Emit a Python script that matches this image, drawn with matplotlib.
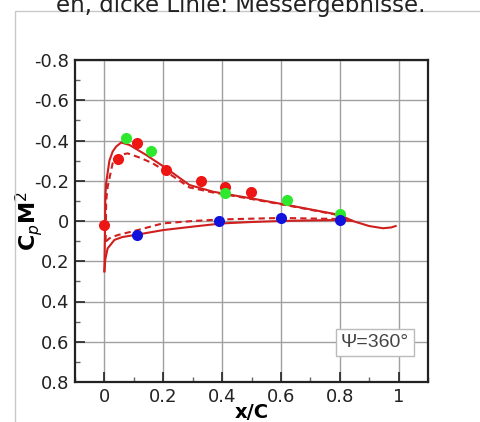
import matplotlib
matplotlib.use("Agg")
import matplotlib.pyplot as plt
from matplotlib.patches import Rectangle

# ---- data ----
red_x = [0.0, 0.045, 0.11, 0.21, 0.33, 0.41, 0.50]
red_y = [0.02, -0.307, -0.39, -0.253, -0.199, -0.167, -0.143]
green_x = [0.075, 0.159, 0.41, 0.62, 0.80]
green_y = [-0.41, -0.348, -0.138, -0.104, -0.033]
blue_x = [0.111, 0.391, 0.60, 0.80]
blue_y = [0.068, 0.0, -0.015, -0.005]

sol_up_x = [0.0, 0.002, 0.003, 0.006, 0.017, 0.028, 0.04, 0.057, 0.085, 0.142, 0.21, 0.289,
            0.368, 0.41, 0.497, 0.62, 0.80, 0.844, 0.90, 0.947, 0.975, 0.99]
sol_up_y = [0.25, 0.05, -0.12, -0.19, -0.30, -0.345, -0.37, -0.39, -0.378, -0.328, -0.262,
            -0.179, -0.146, -0.135, -0.113, -0.08, -0.03, 0.0, 0.025, 0.036, 0.032, 0.025]
sol_lo_x = [0.0, 0.003, 0.011, 0.034, 0.06, 0.11, 0.2, 0.3, 0.4, 0.5, 0.6, 0.7, 0.8, 0.844]
sol_lo_y = [0.25, 0.19, 0.136, 0.094, 0.08, 0.068, 0.045, 0.028, 0.012, 0.005, 0.0, -0.003,
            -0.005, 0.0]
das_up_x = [0.004, 0.006, 0.011, 0.028, 0.051, 0.079, 0.12, 0.164, 0.21, 0.289, 0.368,
            0.41, 0.497, 0.62, 0.80, 0.844]
das_up_y = [0.1, -0.1, -0.17, -0.287, -0.328, -0.336, -0.315, -0.287, -0.245, -0.167, -0.142,
            -0.132, -0.11, -0.078, -0.028, 0.0]
das_lo_x = [0.004, 0.008, 0.017, 0.045, 0.113, 0.198, 0.3, 0.4, 0.6, 0.8, 0.844]
das_lo_y = [0.1, 0.098, 0.086, 0.07, 0.045, 0.012, 0.0, -0.008, -0.015, -0.01, 0.0]

xticks = [0, 0.2, 0.4, 0.6, 0.8, 1]
xtick_labels = ["0", "0.2", "0.4", "0.6", "0.8", "1"]
yticks = [-0.8, -0.6, -0.4, -0.2, 0, 0.2, 0.4, 0.6, 0.8]
ytick_labels = ["-0.8", "-0.6", "-0.4", "-0.2", "0", "0.2", "0.4", "0.6", "0.8"]

W, H = 481, 422
plt.rcParams['font.family'] = ['DejaVu Sans']
plt.rcParams['mathtext.fontset'] = 'dejavusans'
fig = plt.figure(figsize=(W / 100, H / 100), dpi=100)

# grey frame (left and top edges visible)
fig.patches.append(Rectangle((15 / W, -0.05), 1.0, (H - 11) / H + 0.05,
                             transform=fig.transFigure, fill=False,
                             edgecolor='#c8c8c8', linewidth=1.0))
fig.text(241 / W, (H - 12) / H, "en, dicke Linie: Messergebnisse.", ha='center',
         va='baseline', fontsize=16.5, color='#222222')

ax = fig.add_axes([75 / W, (H - 382) / H, (428 - 75) / W, (382 - 60) / H])
lc = '#d01f1f'
ax.plot(sol_up_x, sol_up_y, color=lc, lw=1.5, zorder=3)
ax.plot(sol_lo_x, sol_lo_y, color=lc, lw=1.5, zorder=3)
ax.plot(das_up_x, das_up_y, color=lc, lw=1.5, ls=(0, (3, 2)), zorder=3)
ax.plot(das_lo_x, das_lo_y, color=lc, lw=1.5, ls=(0, (3, 2)), zorder=3)
ax.plot(red_x, red_y, 'o', color='#ee1515', ms=8, mec='none', zorder=4)
ax.plot(green_x, green_y, 'o', color='#2ee82e', ms=8, mec='none', zorder=4)
ax.plot(blue_x, blue_y, 'o', color='#1212dd', ms=8, mec='none', zorder=4)

ax.set_xlim(-0.1, 1.1)
ax.set_ylim(0.8, -0.8)
ax.set_xticks(xticks)
ax.set_xticklabels(xtick_labels)
ax.set_yticks(yticks)
ax.set_yticklabels(ytick_labels)
ax.set_xticks([-0.1 + 0.1 * i for i in range(13)], minor=True)
ax.set_yticks([-0.7 + 0.2 * i for i in range(8)], minor=True)
ax.tick_params(which='major', direction='in', length=7, width=1.2, labelsize=13,
               colors='#222222', pad=4)
ax.tick_params(which='minor', direction='in', length=3.5, width=1.0, color='#666666')
ax.grid(True, which='major', color='#a0a0a0', lw=1.0)
ax.set_axisbelow(True)
for s in ax.spines.values():
    s.set_linewidth(1.6)
    s.set_color('#222222')

ax.set_xlabel("x/C", fontsize=14, fontweight='bold', va='top')
ax.xaxis.set_label_coords((252 - 75) / 353, (382 - 403) / 322)
ax.set_ylabel(r"$\mathbf{C}_{p}\mathbf{M}^{2}$", fontsize=16)
ax.yaxis.set_label_coords((45 - 75) / 353, (382 - 221) / 322)

ax.text((375 - 75) / 353, (382 - 342.5) / 322, "Ψ=360°", transform=ax.transAxes,
        ha='center', va='center', fontsize=14, color='#444444',
        family=['Liberation Sans', 'DejaVu Sans'],
        bbox=dict(boxstyle='square,pad=0.25', fc='white', ec='#bbbbbb', lw=1.0))

fig.savefig("out.png", dpi=100)
